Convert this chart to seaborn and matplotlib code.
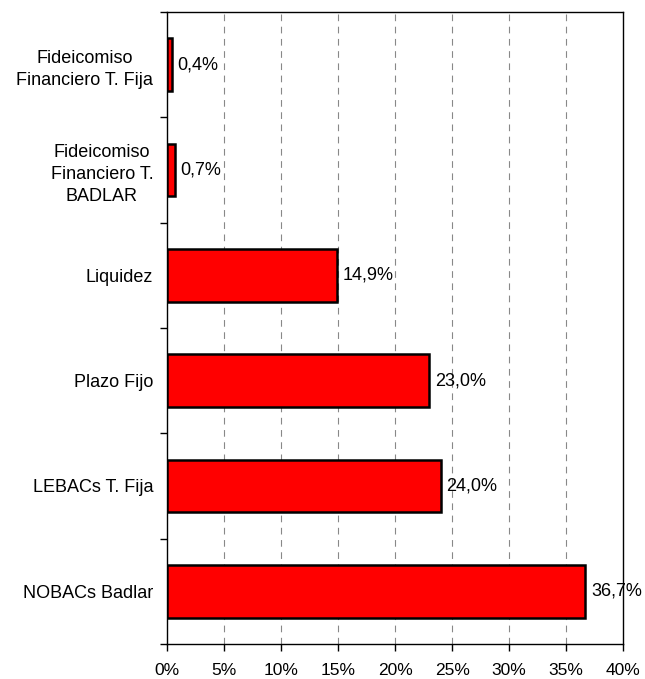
import matplotlib
matplotlib.use("Agg")
import matplotlib.pyplot as plt
import matplotlib.ticker as ticker
import pandas as pd
import seaborn as sns

CATEGORIES = [
    "Fideicomiso\nFinanciero T. Fija",
    "Fideicomiso\nFinanciero T.\nBADLAR",
    "Liquidez",
    "Plazo Fijo",
    "LEBACs T. Fija",
    "NOBACs Badlar",
]
SHARES = [0.4, 0.7, 14.9, 23.0, 24.0, 36.7]
X_TICKS = [0, 5, 10, 15, 20, 25, 30, 35, 40]

sns.set_style("white")
plt.rcParams["font.family"] = ["Liberation Sans", "DejaVu Sans"]
plt.rcParams.update({
    "font.size": 13, "text.color": "black",
    "xtick.color": "black", "ytick.color": "black",
    "xtick.labelcolor": "black", "ytick.labelcolor": "black",
})

df = pd.DataFrame({"cat": CATEGORIES, "val": SHARES})

fig = plt.figure(figsize=(6.45, 6.79), dpi=100)
ax = fig.add_axes([0.259, 0.0515, 0.707, 0.931])

sns.barplot(data=df, x="val", y="cat", order=CATEGORIES, color="#FF0000",
            saturation=1, edgecolor="black", linewidth=1.8, width=0.5, ax=ax, zorder=3)

ax.set_xlim(0, 40)
ax.set_ylim(len(CATEGORIES) - 0.5, -0.5)
ax.set_xticks(X_TICKS)
ax.xaxis.set_major_formatter(ticker.FuncFormatter(lambda v, p: f"{v:.0f}%"))
for x in X_TICKS[1:-1]:
    ax.axvline(x, color="#888888", ls=(0, (6, 5)), lw=0.8, zorder=1)

# category labels without ticks, tick marks at category boundaries
ax.set_yticks(range(len(CATEGORIES)))
ax.set_yticklabels(CATEGORIES, ha="right", multialignment="center", linespacing=1.4)
ax.set_yticks([i - 0.5 for i in range(len(CATEGORIES) + 1)], minor=True)
ax.tick_params(axis="y", which="major", left=True, length=0, pad=10)
ax.tick_params(axis="y", which="minor", left=True, length=5, width=1, direction="out")
ax.tick_params(axis="x", bottom=True, length=5, width=1, direction="out", pad=9)
ax.tick_params(axis="x", labelsize=12.5)
ax.set_xlabel("")
ax.set_ylabel("")

for s in ax.spines.values():
    s.set_visible(True)
    s.set_color("black")
    s.set_linewidth(1)

for i, v in enumerate(SHARES):
    ax.text(v + 0.5, i, f"{v:.1f}%".replace(".", ","), va="center", ha="left",
            fontsize=13, zorder=4, clip_on=False)

fig.savefig("out.png", dpi=100)
